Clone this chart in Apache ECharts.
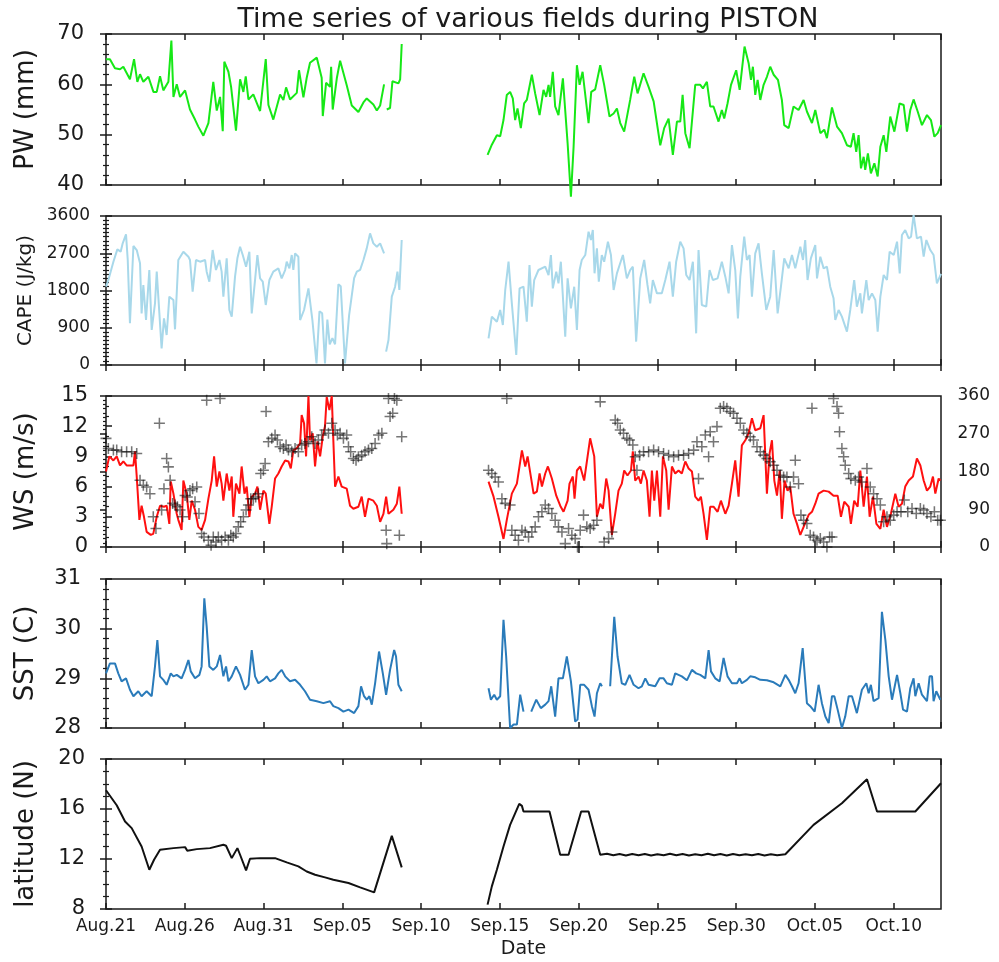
<!DOCTYPE html>
<html>
<head>
<meta charset="utf-8">
<script src="https://cdn.jsdelivr.net/npm/echarts@6/dist/echarts.min.js"></script>
<style>
  html, body { margin: 0; padding: 0; background: #fff; }
  #chart { width: 999px; height: 962px; }
</style>
</head>
<body>
<div id="chart"></div>
<script>
// x values are days since Aug.21 ; null marks a gap in the record
const monthNames = ['Jan', 'Feb', 'Mar', 'Apr', 'May', 'Jun', 'Jul', 'Aug', 'Sep', 'Oct', 'Nov', 'Dec'];
const startMonth = 7, startDay = 21;
const dayMax = 53;

const pw = [
  [0,65],[0.25,65],[0.57,63.2],[0.89,63],[1.1,63.5],[1.52,61],[1.78,65],[1.99,60.5],[2.16,62],[2.37,60.5],
  [2.69,61.5],[3.01,58.5],[3.22,58.5],[3.43,61.6],[3.64,58.8],[3.96,60.5],[4.15,68.7],[4.28,57.5],[4.49,60],
  [4.7,57.5],[5.02,58.8],[5.33,55],[5.65,53],[5.86,51.6],[6.18,49.8],[6.5,52.3],[6.81,60.5],[7.03,54.8],
  [7.24,57.5],[7.41,50.7],[7.51,64.5],[7.77,62.5],[7.94,59.5],[8.25,50.8],[8.51,61],[8.72,58.5],[8.87,61.6],
  [9.04,57],[9.35,58],[9.78,54.7],[10.14,65],[10.31,55.9],[10.62,53],[11.05,58],[11.26,56.9],[11.43,59.4],
  [11.68,57],[12.11,58.3],[12.25,62.8],[12.53,57.4],[12.74,61.3],[12.95,64.3],[13.38,65.3],[13.69,61.3],
  [13.76,53.7],[13.97,60.3],[14.22,59.5],[14.29,63.5],[14.39,55],[14.65,61.2],[14.86,64.7],[15.28,59.8],
  [15.6,55.8],[16.02,54.5],[16.34,56.4],[16.55,57.2],[16.97,56],[17.19,54.8],[17.4,55.8],[17.65,60],
  [17.72,null],[17.82,55],[18.03,55.3],[18.18,60.6],[18.56,60.2],[18.67,61],[18.77,68],
  [21,null],
  [24.22,46],[24.49,48],[24.81,49.9],[25.02,49.7],[25.23,52.9],[25.44,57.9],[25.65,58.5],[25.82,57.2],
  [25.97,52.9],[26.12,55.2],[26.33,51.3],[26.54,56.2],[26.71,56.9],[27.03,61.9],[27.24,58.2],[27.52,53.9],
  [27.77,58.9],[27.94,57.5],[28.09,59.9],[28.19,57.5],[28.36,62.5],[28.51,55.6],[28.72,53.9],[29.0,61.2],
  [29.3,48.3],[29.51,37.7],[29.68,47.6],[29.89,63.8],[30.06,59.9],[30.25,62.5],[30.63,52.3],[30.8,58.5],
  [31.05,59],[31.37,63.8],[31.62,59.9],[31.96,53.6],[32.22,54.2],[32.43,55.2],[32.64,52.3],[32.89,50.6],
  [33.27,56.9],[33.53,61.5],[33.74,58.2],[34.12,62.2],[34.44,59.5],[34.76,56.6],[35.18,47.9],[35.43,51.3],
  [35.71,53.2],[35.98,46],[36.24,52.6],[36.45,52.6],[36.6,57.9],[36.77,50.3],[37.04,47.3],[37.4,59.9],
  [37.72,59.9],[37.89,59.2],[38.14,60.5],[38.35,55.6],[38.56,55.6],[38.88,52.6],[39.09,54.9],[39.24,53.2],
  [39.45,56.2],[39.67,59.9],[40.0,62.8],[40.22,58.9],[40.53,67.5],[40.79,64.2],[40.94,60.9],[41.06,63.5],
  [41.21,57.9],[41.36,60.9],[41.53,56.9],[41.74,59.9],[41.95,61.5],[42.16,63.5],[42.38,61.9],[42.65,60.9],
  [42.9,56.9],[43.05,51.9],[43.33,51.3],[43.64,55.6],[43.96,54.9],[44.28,56.9],[44.49,54.6],[44.81,52.3],
  [45.02,54.9],[45.34,50.3],[45.59,51],[45.76,49.3],[46.08,55.4],[46.4,51.6],[46.71,50.3],[47.03,47.9],
  [47.28,47.6],[47.45,50.3],[47.62,46.6],[47.77,49.9],[47.92,43.3],[48.09,45.6],[48.19,43],[48.36,46.3],
  [48.55,42.3],[48.77,44.3],[48.98,41.7],[49.15,47.6],[49.36,49.9],[49.53,46.6],[49.78,53.6],[50.04,50.6],
  [50.37,56.2],[50.63,55.9],[50.84,50.6],[51.05,54.9],[51.26,57],[51.52,54.6],[51.79,51.9],[52.11,53.9],
  [52.36,52.9],[52.58,49.6],[52.79,50.3],[53.0,51.9]
];

const cape = [
  [0,1892],[0.15,2053],[0.47,2496],[0.72,2794],[0.93,2738],[1.06,2939],[1.27,3157],[1.38,2537],[1.52,1007],
  [1.74,2875],[1.95,2778],[2.16,2456],[2.26,1248],[2.37,1933],[2.54,1087],[2.75,2295],[2.9,846],[3.11,1490],
  [3.22,2255],[3.32,1651],[3.53,403],[3.68,1127],[3.85,725],[4.02,1651],[4.28,1570],[4.38,862],[4.59,2537],
  [4.91,2738],[5.23,2617],[5.33,2537],[5.5,1772],[5.71,2537],[5.97,2496],[6.29,2537],[6.39,2255],[6.56,2013],
  [6.77,2778],[6.98,2295],[7.2,2537],[7.34,2255],[7.45,1651],[7.66,2577],[7.83,1329],[7.98,1168],[8.19,2134],
  [8.34,2577],[8.51,2858],[8.68,2657],[8.89,2375],[9.1,2738],[9.25,1248],[9.46,2053],[9.61,2657],[9.78,2093],
  [9.95,2013],[10.14,1450],[10.37,2053],[10.62,2255],[10.94,2335],[11.15,2093],[11.37,2295],[11.47,2496],
  [11.64,2335],[11.79,2657],[11.89,2295],[12.0,2698],[12.21,2617],[12.32,1087],[12.57,1329],[12.85,1852],
  [13.1,1087],[13.36,40],[13.55,1300],[13.72,1250],[13.9,40],[14.05,1100],[14.2,500],[14.37,650],[14.54,500],
  [14.75,1950],[14.9,1900],[15.17,40],[15.43,1200],[15.75,2100],[15.92,2255],[16.13,2300],[16.34,2537],
  [16.55,2818],[16.76,3181],[16.97,2939],[17.19,2858],[17.4,2939],[17.65,2698],
  [17.72,null],[17.78,322],[17.93,604],[18.14,1651],[18.35,1892],[18.5,2255],[18.62,1812],[18.77,3020],
  [21,null],
  [24.28,644],[24.49,1168],[24.81,1047],[25.02,1329],[25.19,966],[25.34,1812],[25.55,2496],[25.76,1490],
  [26.04,242],[26.25,1852],[26.5,1892],[26.71,1047],[26.88,2416],[27.03,1409],[27.18,2053],[27.45,2295],
  [27.88,2375],[28.09,2174],[28.24,2657],[28.36,1852],[28.58,2255],[28.72,1973],[28.87,2496],[29.15,684],
  [29.3,2093],[29.51,1369],[29.72,1892],[29.89,846],[30.06,2295],[30.2,2537],[30.42,2657],[30.63,3221],
  [30.78,3020],[30.9,3261],[31.01,2215],[31.16,2818],[31.28,2013],[31.47,2657],[31.62,2496],[31.86,2979],
  [32.05,2657],[32.22,1812],[32.43,2215],[32.6,2416],[32.81,2657],[33.06,2093],[33.27,2295],[33.44,2375],
  [33.65,564],[33.91,2093],[34.16,2537],[34.37,1933],[34.54,1490],[34.71,2053],[34.97,1731],[35.28,1731],
  [35.5,2053],[35.77,2496],[35.98,1651],[36.19,2496],[36.45,2979],[36.66,2818],[36.83,2174],[37.04,2053],
  [37.25,2496],[37.46,765],[37.61,2778],[37.82,1450],[38.1,1409],[38.31,2295],[38.52,2053],[38.82,2093],
  [39.09,2496],[39.31,2134],[39.52,1731],[39.73,2899],[39.94,2295],[40.11,1127],[40.26,2134],[40.51,3100],
  [40.68,2537],[40.85,2657],[41.0,1651],[41.21,2698],[41.42,2939],[41.63,2215],[41.91,1329],[42.16,1651],
  [42.38,2778],[42.63,1248],[42.84,1892],[43.05,2577],[43.33,2335],[43.54,2657],[43.75,2335],[44.07,2858],
  [44.24,2537],[44.38,3020],[44.53,2053],[44.74,2577],[45.02,2899],[45.13,2093],[45.34,2617],[45.55,2335],
  [45.76,2375],[45.97,1892],[46.18,1611],[46.29,1087],[46.5,1329],[46.71,1168],[47.03,805],[47.24,1329],
  [47.49,2053],[47.66,1409],[47.88,1731],[47.98,1248],[48.26,2053],[48.41,1570],[48.62,1731],[48.83,1570],
  [48.98,805],[49.15,1651],[49.36,2174],[49.57,2053],[49.74,2738],[50.0,2657],[50.21,2979],[50.38,2215],
  [50.52,3141],[50.73,3261],[50.95,3060],[51.1,3100],[51.26,3624],[51.47,3060],[51.73,3100],[51.9,2617],
  [52.07,3020],[52.32,2778],[52.53,2657],[52.74,1973],[53.0,2200]
];

const ws = [
  [0,7.5],[0.21,9],[0.47,8.6],[0.68,9],[0.89,8.1],[1.1,8.5],[1.31,8.1],[1.74,8.1],[1.84,9.5],[1.95,7],
  [2.12,2.7],[2.26,4.1],[2.41,3],[2.58,1.5],[2.84,1.2],[3.0,1.3],[3.22,3],[3.43,4.1],[3.68,4],[3.85,4.1],
  [4.02,2.3],[4.11,6.5],[4.28,5.3],[4.49,3.3],[4.59,2.7],[4.8,1.7],[4.91,6.6],[5.12,5.3],[5.29,2.7],[5.44,4.6],
  [5.65,3.7],[5.86,2],[6.07,1.7],[6.29,2.7],[6.5,4.8],[6.71,6.6],[6.86,9],[7.03,6],[7.2,7.5],[7.34,6.3],
  [7.45,4.6],[7.66,7.3],[7.83,5.6],[7.98,7],[8.08,3],[8.25,6.3],[8.47,5.3],[8.61,8],[8.79,5.3],[8.93,6],
  [9.1,3],[9.25,5],[9.46,5.3],[9.61,6],[9.78,3.7],[9.99,5.6],[10.14,5.3],[10.37,2.3],[10.52,4],[10.73,6.8],
  [10.94,7.3],[11.15,8],[11.37,8.6],[11.58,8.5],[11.73,7.8],[11.89,9.6],[12.1,9.8],[12.32,10.3],[12.42,13.1],
  [12.57,12.3],[12.7,9],[12.85,15],[12.95,10.6],[13.12,11.3],[13.27,8],[13.42,10.5],[13.59,9],[13.76,11],
  [13.9,12],[14.01,14.9],[14.18,13.6],[14.33,15],[14.43,10.6],[14.54,6],[14.75,7],[14.96,6],[15.28,5.8],
  [15.49,4.1],[15.7,3.8],[16.02,4],[16.23,5],[16.44,3],[16.66,4.8],[16.97,4.6],[17.19,4.1],[17.4,2.5],
  [17.61,3.3],[17.78,5],[17.93,3.3],[18.24,3.7],[18.46,4.3],[18.62,6],[18.77,3.3],
  [21,null],
  [24.28,6.5],[24.6,5],[24.91,3],[25.23,0.8],[25.44,2.7],[25.76,5.3],[26.08,6.3],[26.4,9.6],[26.61,8],
  [26.76,9],[27.14,5.3],[27.35,5.5],[27.52,7.3],[27.67,6],[27.88,7.3],[28.05,8],[28.3,6.8],[28.58,5.1],
  [28.83,4.1],[29.04,3.5],[29.3,4.6],[29.42,6.3],[29.63,7],[29.74,4.8],[29.89,7.6],[30.1,8],[30.35,6.6],
  [30.73,10.8],[30.99,9],[31.16,3],[31.37,4.3],[31.54,3.8],[31.75,6.8],[31.9,5.6],[32.11,1.2],[32.32,3.3],
  [32.53,5.6],[32.74,6.3],[32.89,7.6],[33.1,7.1],[33.32,7.6],[33.44,9.5],[33.59,6.6],[33.8,7],[33.95,6.3],
  [34.12,7.6],[34.33,6.6],[34.5,3],[34.65,7.6],[34.8,4.6],[34.97,7.6],[35.18,3],[35.35,9],[35.56,7.6],
  [35.71,3.7],[35.92,8],[36.13,7.3],[36.34,7.6],[36.55,7.3],[36.77,8.5],[36.98,7.8],[37.19,7.5],[37.4,5],
  [37.61,4.6],[37.76,5],[37.93,3.3],[38.14,0.7],[38.35,4],[38.56,4],[38.82,3.5],[39.03,4.6],[39.31,3.3],
  [39.52,4.1],[39.73,6.3],[39.94,8.6],[40.15,5],[40.36,10.1],[40.58,10.6],[40.79,11.3],[41.0,12.8],
  [41.21,11.6],[41.53,11.8],[41.74,13.1],[41.95,5.3],[42.12,9.3],[42.27,10.6],[42.42,6.6],[42.59,5.1],
  [42.76,7.6],[42.9,2.8],[43.07,6.6],[43.26,5.6],[43.43,6],[43.64,3.3],[43.86,2.3],[44.07,1.2],[44.28,2],
  [44.6,3.2],[44.81,3.5],[45.02,4.3],[45.23,5.3],[45.55,5.6],[45.87,5.5],[46.18,5.1],[46.44,5.1],[46.65,3],
  [46.86,4.5],[47.14,4],[47.28,2.3],[47.49,4.6],[47.71,4],[47.88,7.6],[48.09,4],[48.3,7],[48.47,3],
  [48.68,5],[48.9,2.3],[49.15,1.8],[49.36,3.7],[49.57,2],[49.82,3.3],[50.1,5.3],[50.31,4],[50.52,4.3],
  [50.73,6],[50.95,6.6],[51.22,7],[51.47,8.8],[51.69,8.1],[51.9,6.6],[52.11,5.6],[52.32,6],[52.49,7],
  [52.64,5.3],[52.85,6.8],[52.96,6.6]
];

const windDir = [
  [0,259],[0.15,235],[0.47,231],[0.68,231],[0.99,227],[1.31,227],[1.63,227],[1.95,223],[2.16,159],[2.37,147],
  [2.58,143],[2.79,127],[3.0,72],[3.17,44],[3.39,295],[3.53,88],[3.68,139],[3.85,211],[3.96,191],[4.07,159],
  [4.23,104],[4.38,100],[4.53,96],[4.7,88],[4.87,72],[5.02,123],[5.16,119],[5.33,135],[5.5,139],[5.65,108],
  [5.76,143],[5.9,80],[6.07,32],[6.22,24],[6.39,350],[6.5,16],[6.67,4],[6.81,24],[6.98,12],[7.13,24],
  [7.24,354],[7.34,16],[7.56,24],[7.77,16],[7.92,28],[8.08,24],[8.25,32],[8.4,48],[8.55,60],[8.72,72],
  [8.89,88],[9.04,100],[9.19,115],[9.35,115],[9.5,119],[9.67,127],[9.82,175],[9.99,183],[10.1,199],[10.16,323],
  [10.31,251],[10.52,259],[10.73,267],[10.88,255],[11.05,239],[11.26,235],[11.43,243],[11.58,231],[11.79,227],
  [12.0,235],[12.21,227],[12.42,243],[12.63,247],[12.85,251],[13.06,263],[13.27,247],[13.48,255],[13.69,267],
  [13.9,279],[14.12,271],[14.33,295],[14.54,279],[14.69,267],[14.86,271],[15.07,259],[15.28,267],[15.39,239],
  [15.53,227],[15.7,211],[15.87,207],[16.02,215],[16.23,219],[16.44,227],[16.66,231],[16.87,235],[17.08,247],
  [17.3,267],[17.51,271],[17.78,40],[17.82,8],[17.93,354],[18.03,311],[18.2,319],[18.31,354],[18.46,350],
  [18.62,28],[18.77,263],
  [24.28,183],[24.49,175],[24.7,167],[24.91,155],[25.13,115],[25.34,104],[25.44,354],[25.65,100],[25.76,40],
  [25.97,28],[26.18,16],[26.4,40],[26.61,36],[26.82,24],[27.03,36],[27.24,48],[27.45,72],[27.67,84],[27.88,100],
  [28.09,92],[28.3,80],[28.51,64],[28.72,48],[28.94,36],[29.15,8],[29.36,44],[29.57,28],[29.78,20],[29.93,0],
  [30.1,40],[30.31,76],[30.52,48],[30.73,44],[30.95,52],[31.16,64],[31.37,346],[31.62,12],[31.9,20],[32.11,36],
  [32.32,303],[32.47,295],[32.64,279],[32.85,271],[33.06,259],[33.23,255],[33.44,243],[33.59,215],[33.7,183],
  [33.87,219],[34.12,227],[34.44,227],[34.76,231],[35.07,227],[35.39,223],[35.71,219],[36.03,215],[36.34,219],
  [36.66,219],[36.98,223],[37.3,231],[37.51,251],[37.61,163],[37.82,239],[38.04,267],[38.25,215],[38.35,275],
  [38.56,251],[38.78,287],[38.99,331],[39.2,335],[39.41,331],[39.62,323],[39.83,319],[40.05,307],[40.26,295],
  [40.47,279],[40.68,271],[40.89,263],[41.1,255],[41.32,239],[41.53,227],[41.74,219],[41.95,211],[42.16,203],
  [42.38,195],[42.59,183],[42.8,171],[43.01,167],[43.22,167],[43.43,143],[43.64,167],[43.75,207],[43.96,151],
  [44.11,76],[44.28,64],[44.49,56],[44.7,28],[44.81,331],[44.91,24],[45.13,16],[45.34,20],[45.55,12],[45.76,0],
  [45.93,24],[46.08,24],[46.18,354],[46.4,335],[46.5,319],[46.56,275],[46.71,235],[46.82,215],[46.92,195],
  [47.14,175],[47.28,163],[47.56,159],[47.77,167],[47.98,155],[48.3,187],[48.51,143],[48.72,127],[48.94,115],
  [49.15,100],[49.36,60],[49.57,72],[49.78,64],[50.0,76],[50.21,84],[50.46,84],[50.67,112],[50.89,84],
  [51.16,92],[51.43,80],[51.69,92],[51.9,88],[52.11,80],[52.36,72],[52.58,84],[52.79,64],[52.96,64]
];

const sst = [
  [0,29.1],[0.25,29.3],[0.57,29.3],[0.78,29.1],[0.99,28.94],[1.27,29.0],[1.52,28.77],[1.74,28.64],[2.05,28.74],
  [2.26,28.64],[2.58,28.74],[2.9,28.64],[3.11,29.24],[3.26,29.77],[3.43,29.04],[3.64,28.97],[3.85,28.87],
  [4.11,29.1],[4.28,29.04],[4.49,29.07],[4.8,29.0],[5.02,29.17],[5.23,29.37],[5.38,29.14],[5.65,29.0],
  [5.93,29.07],[6.07,29.24],[6.24,30.61],[6.39,30.04],[6.56,29.24],[6.81,29.17],[7.03,29.24],[7.24,29.47],
  [7.45,29.04],[7.62,29.24],[7.77,28.94],[7.98,29.04],[8.25,29.24],[8.51,29.07],[8.82,28.77],[9.04,28.87],
  [9.25,29.57],[9.46,29.04],[9.67,28.9],[9.99,28.97],[10.2,29.04],[10.41,28.94],[10.73,29.0],[10.94,29.1],
  [11.15,29.17],[11.37,29.04],[11.68,28.94],[12.0,28.97],[12.32,28.87],[12.63,28.74],[12.95,28.57],
  [13.38,28.54],[13.8,28.5],[14.22,28.54],[14.43,28.44],[14.75,28.4],[15.07,28.33],[15.39,28.37],[15.75,28.3],
  [16.02,28.44],[16.19,28.84],[16.38,28.64],[16.55,28.57],[16.72,28.64],[16.87,28.47],[17.08,28.9],
  [17.33,29.54],[17.57,29.1],[17.78,28.67],[18.03,29.17],[18.29,29.57],[18.41,29.44],[18.56,28.87],[18.77,28.74],
  [21,null],
  [24.28,28.8],[24.43,28.57],[24.64,28.67],[24.81,28.57],[25.02,28.64],[25.23,30.18],[25.4,29.44],[25.65,28.0],
  [25.87,28.07],[26.08,28.07],[26.29,28.67],[26.5,28.33],
  [26.75,null],
  [26.99,28.33],[27.31,28.57],[27.6,28.4],[27.88,28.47],[28.09,28.54],[28.26,28.84],[28.51,28.23],[28.72,29.0],
  [29.0,29.0],[29.25,29.44],[29.51,28.94],[29.78,28.13],[29.93,28.17],[30.1,28.87],[30.35,28.87],[30.63,28.77],
  [30.84,28.44],[31.01,28.23],[31.16,28.7],[31.37,28.9],[31.48,28.84],
  [31.75,null],
  [32.0,28.84],[32.26,30.24],[32.47,29.44],[32.74,28.9],[32.96,28.87],[33.23,29.07],[33.49,28.87],[33.8,28.8],
  [34.01,28.84],[34.23,29.0],[34.44,28.87],[34.86,28.84],[35.14,29.0],[35.39,29.0],[35.6,28.9],[35.92,28.87],
  [36.13,29.1],[36.34,29.07],[36.55,29.04],[36.87,28.96],[37.19,29.17],[37.46,29.1],[37.72,29.07],[38.04,29.0],
  [38.25,29.57],[38.4,29.14],[38.67,29.0],[38.95,28.94],[39.2,29.41],[39.45,29.04],[39.73,28.9],[40.05,28.9],
  [40.22,29.0],[40.36,28.9],[40.68,28.97],[40.89,29.04],[41.21,29.02],[41.53,28.97],[41.95,28.96],[42.38,28.92],
  [42.8,28.84],[43.12,29.07],[43.33,28.97],[43.54,28.84],[43.75,28.7],[43.96,28.9],[44.22,29.61],[44.49,28.5],
  [44.7,28.44],[44.98,28.33],[45.23,28.87],[45.44,28.5],[45.66,28.23],[45.87,28.1],[46.08,28.64],[46.23,28.64],
  [46.44,28.37],[46.71,28.0],[46.92,28.23],[47.14,28.64],[47.35,28.64],[47.66,28.3],[47.98,28.77],[48.26,28.9],
  [48.41,28.7],[48.55,28.87],[48.72,28.54],[49.04,28.6],[49.25,30.34],[49.47,29.77],[49.68,29.04],[49.89,28.57],
  [50.21,29.07],[50.42,28.7],[50.59,28.37],[50.84,28.33],[51.05,28.8],[51.26,29.0],[51.37,28.64],[51.58,28.9],
  [51.79,28.67],[52.11,28.54],[52.28,29.04],[52.43,29.04],[52.53,28.54],[52.7,28.74],[52.96,28.57]
];

const latitude = [
  [0,17.5],[0.68,16.3],[1.21,15.0],[1.63,14.47],[2.26,13.0],[2.75,11.14],[3.05,11.94],[3.43,12.74],[4.28,12.87],
  [5.02,12.95],[5.16,12.66],[5.76,12.79],[6.6,12.87],[7.45,13.14],[7.62,13.06],[7.98,12.07],[8.34,12.87],
  [8.51,12.34],[8.89,11.09],[9.14,12.02],[9.78,12.07],[10.73,12.07],[11.47,11.73],[12.21,11.41],[12.74,11.0],
  [13.27,10.74],[13.9,10.53],[14.43,10.34],[15.39,10.08],[16.13,9.73],[17.02,9.33],[18.14,13.85],[18.77,11.33],
  [21,null],
  [24.22,8.35],[24.49,9.81],[24.81,11.14],[25.23,13.0],[25.65,14.73],[26.23,16.41],[26.4,16.25],[26.5,15.8],
  [27.35,15.8],[28.15,15.8],[28.83,12.34],[29.36,12.34],[30.16,15.8],[30.63,15.8],[31.37,12.34],[31.8,12.42],
  [32.2,12.3],[32.6,12.4],[33.0,12.28],[33.4,12.4],[33.8,12.3],[34.2,12.4],[34.6,12.28],[35.0,12.38],[35.4,12.3],
  [35.8,12.42],[36.2,12.3],[36.6,12.4],[37.0,12.28],[37.4,12.38],[37.8,12.3],[38.2,12.42],[38.6,12.3],[39.0,12.4],
  [39.4,12.28],[39.8,12.4],[40.2,12.3],[40.6,12.38],[41.0,12.3],[41.4,12.4],[41.8,12.28],[42.2,12.38],[42.6,12.3],
  [43.12,12.38],[44.91,14.73],[46.71,16.46],[48.3,18.38],[48.94,15.8],[50.0,15.8],[51.37,15.8],[53.0,18.06]
];

function gaps(arr) {
  return arr.map(p => [p[0], p[1] === null ? '-' : p[1]]);
}

function dateLabel(d) {
  const dt = new Date(2000, startMonth, startDay + d);
  return monthNames[dt.getMonth()] + '.' + String(dt.getDate()).padStart(2, '0');
}

const FONT = 'DejaVu Sans';
const INK = '#1a1a1a';

const panels = [
  { top: 34,  height: 151, name: 'PW (mm)',      min: 40, max: 70,   step: 10,  minor: 5, size: 21, nameSize: 26, margin: 22 },
  { top: 216, height: 149, name: 'CAPE (J/kg)',  min: 0,  max: 3600, step: 900, minor: 9, size: 17, nameSize: 20, margin: 16 },
  { top: 396, height: 151, name: 'WS (m/s)',     min: 0,  max: 15,   step: 3,   minor: 3, size: 21, nameSize: 26, margin: 18 },
  { top: 579, height: 149, name: 'SST (C)',      min: 28, max: 31,   step: 1,   minor: 5, size: 21, nameSize: 26, margin: 25 },
  { top: 759, height: 150, name: 'latitude (N)', min: 8,  max: 20,   step: 4,   minor: 4, size: 21, nameSize: 26, margin: 21 }
];

const grid = [], xAxis = [], yAxis = [];
panels.forEach((p, i) => {
  grid.push({ left: 106, right: 58, top: p.top, height: p.height, show: true,
    borderColor: INK, borderWidth: 1.5, backgroundColor: 'transparent' });
  const last = i === panels.length - 1;
  ['bottom', 'top'].forEach(pos => {
    xAxis.push({
      type: 'value', gridIndex: i, position: pos, min: 0, max: dayMax, interval: 5,
      axisLine: { show: false }, splitLine: { show: false },
      axisTick: { show: true, inside: true, length: 6, lineStyle: { color: INK, width: 1.5 } },
      axisLabel: { show: last && pos === 'bottom', showMaxLabel: false, margin: 9,
        fontFamily: FONT, fontSize: 17, color: INK, formatter: v => dateLabel(v) },
      name: last && pos === 'bottom' ? 'Date' : '', nameLocation: 'middle', nameGap: 31,
      nameTextStyle: { fontFamily: FONT, fontSize: 19, color: INK }
    });
  });
  yAxis.push({
    type: 'value', gridIndex: i, position: 'left', min: p.min, max: p.max, interval: p.step,
    axisLine: { show: false }, splitLine: { show: false },
    axisTick: { show: true, inside: true, length: 6, lineStyle: { color: INK, width: 1.5 } },
    minorTick: { show: true, splitNumber: p.minor, length: 3, lineStyle: { color: INK, width: 1.2 } },
    axisLabel: { margin: p.margin, fontFamily: FONT, fontSize: p.size, color: INK, formatter: v => String(v) },
    name: p.name, nameLocation: 'middle', nameGap: 67,
    nameTextStyle: { fontFamily: FONT, fontSize: p.nameSize, color: INK }
  });
  const isDir = i === 2;
  yAxis.push({
    type: 'value', gridIndex: i, position: 'right',
    min: isDir ? 0 : p.min, max: isDir ? 360 : p.max, interval: isDir ? 90 : p.step,
    axisLine: { show: false }, splitLine: { show: false },
    axisTick: { show: true, inside: true, length: 6, lineStyle: { color: INK, width: 1.5 } },
    minorTick: { show: true, splitNumber: isDir ? 9 : p.minor, length: 3, lineStyle: { color: INK, width: 1.2 } },
    axisLabel: { show: isDir, margin: 49, align: 'right', fontFamily: FONT, fontSize: 17, color: INK }
  });
});

function line(data, gi, color, width) {
  return {
    type: 'line', xAxisIndex: gi * 2, yAxisIndex: gi * 2, data: gaps(data),
    showSymbol: false, clip: false, connectNulls: false,
    lineStyle: { color: color, width: width }, z: 3
  };
}

const series = [
  line(pw, 0, '#16e816', 2),
  line(cape, 1, '#a8d8ea', 2),
  line(ws, 2, '#ff1010', 2),
  {
    type: 'scatter', xAxisIndex: 4, yAxisIndex: 5, data: windDir, z: 4,
    symbol: 'path://M0,4.3H4.3V0H5.7V4.3H10V5.7H5.7V10H4.3V5.7H0Z', symbolSize: 11,
    itemStyle: { color: 'rgba(10,10,10,0.7)' }
  },
  line(sst, 3, '#2a7bba', 2),
  line(latitude, 4, '#111111', 2)
];

const chart = echarts.init(document.getElementById('chart'), null, { renderer: 'canvas' });
chart.setOption({
  animation: false,
  backgroundColor: '#ffffff',
  title: {
    text: 'Time series of various fields during PISTON', left: 523, top: 1, textAlign: 'center',
    textStyle: { fontFamily: FONT, fontSize: 27, fontWeight: 'normal', color: INK }
  },
  grid: grid, xAxis: xAxis, yAxis: yAxis, series: series
});
window.addEventListener('resize', function () { chart.resize(); });
</script>
</body>
</html>
